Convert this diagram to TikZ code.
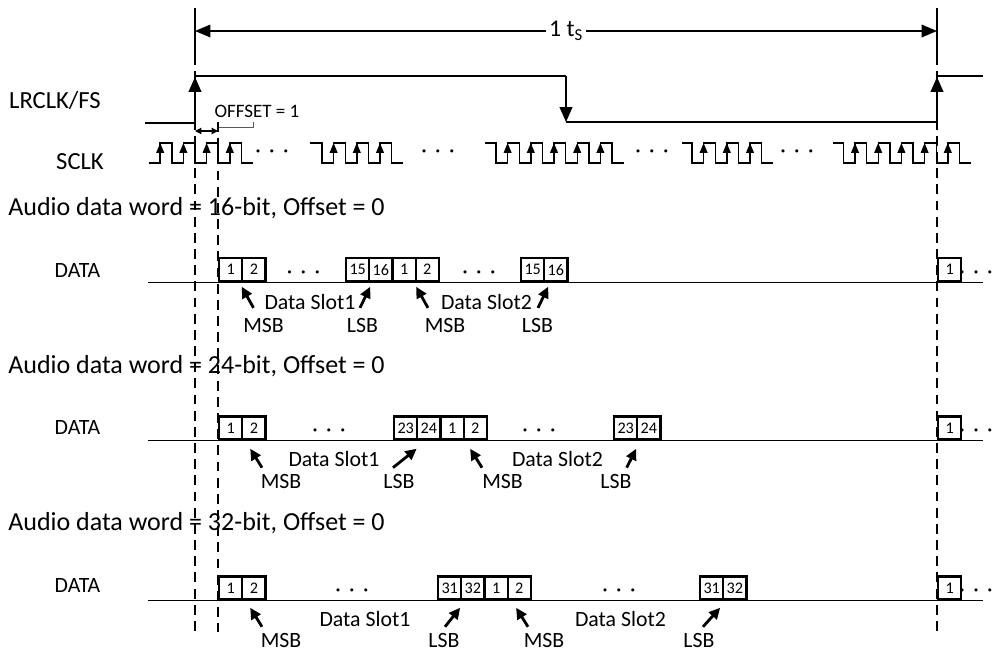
\documentclass[tikz,border=0pt]{standalone}
\usepackage{fontspec}
\setmainfont{Carlito}
\usetikzlibrary{arrows.meta, calc}
\newcommand{\ddd}{·\hspace{0.38em}·\hspace{0.38em}·}
% one run of the bit clock: start (high), first falling edge, number of rising edges
\newcommand{\sclkrun}[3]{%
  \draw[wave] (#1,-143) -- (#2,-143) -- (#2,-163)
    \foreach \k in {1,...,#3} { -- ++(11.6,0) -- ++(0,20) -- ++(11.6,0) -- ++(0,-20) } -- ++(11.6,0);
  \foreach \k in {1,...,#3} \draw[clkup] ({#2+(2*\k-1)*11.6},-163) -- ++(0,20);
}

\begin{document}
\begin{tikzpicture}[x=0.025cm, y=0.025cm,
    font=\fontsize{15.5}{18}\selectfont,
    wave/.style={line width=1pt},
    clkup/.style={line width=1pt, -{Triangle[length=7pt, width=5.5pt]}},
    lrarrow/.style={line width=1pt, -{Triangle[length=10.5pt, width=9pt]}},
    guide/.style={line width=0.8pt, dash pattern=on 7pt off 4.5pt},
    bit/.style={draw, line width=1.6pt, minimum width=0.58cm, minimum height=0.575cm,
      inner sep=0pt, anchor=south west, font=\fontsize{11.5}{12}\selectfont},
    ptr/.style={line width=2pt, -{Triangle[length=8pt, width=7.5pt]}},
    lbl/.style={inner sep=0pt},
    title/.style={inner sep=0pt, anchor=west, font=\fontsize{18.5}{22}\selectfont},
    sig/.style={inner sep=0pt, font=\fontsize{17.5}{20}\selectfont}]
  \useasboundingbox (0,0) rectangle (993,-652);

  % frame period
  \draw[wave] (195,-8) -- (195,-55);
  \draw[wave] (937,-8) -- (937,-55);
  \coordinate (fs0) at (195,-31);
  \coordinate (fs1) at (937,-31);
  \draw[line width=1pt, {Triangle[length=11pt, width=9pt]}-{Triangle[length=11pt, width=9pt]}]
    (fs0) -- node[fill=white, inner sep=2pt, font=\fontsize{17}{19}\selectfont] (ts) {1 t\textsubscript{S}} (fs1);

  % LRCLK/FS
  \node[sig] (lrclk) at (55,-100) {LRCLK/FS};
  \draw[wave] (145,-123) -- (195,-123);
  \draw[lrarrow] (195,-123) -- (195,-77);
  \draw[wave] (195,-76) -- (566,-76);
  \draw[lrarrow] (566,-76) -- (566,-122);
  \draw[wave] (566,-122) -- (937,-122);
  \draw[lrarrow] (937,-122) -- (937,-77);
  \draw[wave] (937,-76) -- (983,-76);

  % offset
  \node[lbl, font=\fontsize{13.5}{15}\selectfont] (offs) at (257,-111) {OFFSET = 1};
  \draw[line width=0.6pt, gray!70!black] (218,-127) -- (253,-127) -- (253,-122);
  \draw[line width=0.8pt, {Triangle[length=4.5pt, width=4.5pt]}-{Triangle[length=4.5pt, width=4.5pt]}]
    (195,-131) -- (218,-131);

  % SCLK
  \node[sig] (sclk) at (80,-162) {SCLK};
  \draw[wave] (148.6,-163)
    \foreach \k in {1,...,4} { -- ++(11.6,0) -- ++(0,20) -- ++(11.6,0) -- ++(0,-20) } -- ++(11.6,0);
  \foreach \k in {1,...,4} \draw[clkup] ({148.6+(2*\k-1)*11.6},-163) -- ++(0,20);
  \sclkrun{310}{322}{3}
  \sclkrun{485}{496}{5}
  \sclkrun{682}{692}{3}
  \sclkrun{833}{843.4}{5}
  \foreach \x/\n in {272/1, 438/2, 652/3, 797/4}
    \node[lbl] (cd\n) at (\x,-154) {\ddd};

  % guides
  \draw[guide] (195,-55) -- (195,-636);
  \draw[guide] (218,-122) -- (218,-632);
  \draw[guide] (937,-55) -- (937,-636);

  % 16-bit
  \begin{scope}[shift={(0,-282.3)}]
    \node[title] (r1t) at (8,73.8) {Audio data word = 16-bit, Offset = 0};
    \node[lbl] (r1data) at (77.5,12) {DATA};
    \draw[wave] (148,0) -- (983,0);
    \foreach \x/\t/\n in {218/1/a, 241.2/2/b, 345/15/c, 368.2/16/d, 391.4/1/e, 414.6/2/f,
        520/15/g, 543.2/16/h, 937/1/i}
      \node[bit] (r1\n) at (\x,0) {\t};
    \foreach \x/\n in {303.5/1, 479/2, 976/3}
      \node[lbl] (r1d\n) at (\x,8) {\ddd};
    \foreach \x/\t/\n in {263.5/MSB/m1, 362.5/LSB/l1, 445/MSB/m2, 537.5/LSB/l2}
      \node[lbl] (r1\n) at (\x,-43) {\t};
    \node[lbl] (r1s1) at (310,-20) {Data Slot1};
    \node[lbl] (r1s2) at (486.5,-20) {Data Slot2};
    \foreach \a/\dx/\b/\ex in {m1/-10/b/0.5, l1/-2.5/d/2, m2/-17/f/1.5, l2/0.5/h/5}
      \draw[ptr] ($(r1\a.north)+(\dx,10)$) -- ($(r1\b.south west)+(\ex,-4.4)$);
  \end{scope}

  % 24-bit
  \begin{scope}[shift={(0,-440.7)}]
    \node[title] (r2t) at (8,75) {Audio data word = 24-bit, Offset = 0};
    \node[lbl] (r2data) at (77.5,13) {DATA};
    \draw[wave] (148,0) -- (983,0);
    \foreach \x/\t/\n in {218/1/a, 241.2/2/b, 393/23/c, 416.2/24/d, 439.4/1/e, 462.6/2/f,
        613/23/g, 636.2/24/h, 937/1/i}
      \node[bit] (r2\n) at (\x,0) {\t};
    \foreach \x/\n in {329/1, 539/2, 976/3}
      \node[lbl] (r2d\n) at (\x,8) {\ddd};
    \foreach \x/\t/\n in {281/MSB/m1, 399/LSB/l1, 502.5/MSB/m2, 616/LSB/l2}
      \node[lbl] (r2\n) at (\x,-41) {\t};
    \node[lbl] (r2s1) at (334,-18.3) {Data Slot1};
    \node[lbl] (r2s2) at (557.5,-18.3) {Data Slot2};
    \foreach \a/\dx/\b/\ex in {m1/-19/b/9, l1/-6/d/0.5, m2/-20.5/f/7.5, l2/10.7/h/0}
      \draw[ptr] ($(r2\a.north)+(\dx,6.6)$) -- ($(r2\b.south west)+(\ex,-8)$);
  \end{scope}

  % 32-bit
  \begin{scope}[shift={(0,-600.7)}]
    \node[title] (r3t) at (8,78) {Audio data word = 32-bit, Offset = 0};
    \node[lbl] (r3data) at (77.5,15) {DATA};
    \draw[wave] (148,0) -- (983,0);
    \foreach \x/\t/\n in {218/1/a, 241.2/2/b, 437/31/c, 460.2/32/d, 483.4/1/e, 506.6/2/f,
        699/31/g, 722.2/32/h, 937/1/i}
      \node[bit] (r3\n) at (\x,0) {\t};
    \foreach \x/\n in {352/1, 619/2, 976/3}
      \node[lbl] (r3d\n) at (\x,8) {\ddd};
    \foreach \x/\t/\n in {281/MSB/m1, 444/LSB/l1, 544/MSB/m2, 699/LSB/l2}
      \node[lbl] (r3\n) at (\x,-39.5) {\t};
    \node[lbl] (r3s1) at (365,-18.6) {Data Slot1};
    \node[lbl] (r3s2) at (620.5,-18.6) {Data Slot2};
    \foreach \a/\dx/\b/\ex in {m1/-19/b/9, l1/1/d/0, m2/-16/f/9.5, l2/4/h/-2}
      \draw[ptr] ($(r3\a.north)+(\dx,6)$) -- ($(r3\b.south west)+(\ex,-7)$);
  \end{scope}
\end{tikzpicture}
\end{document}
